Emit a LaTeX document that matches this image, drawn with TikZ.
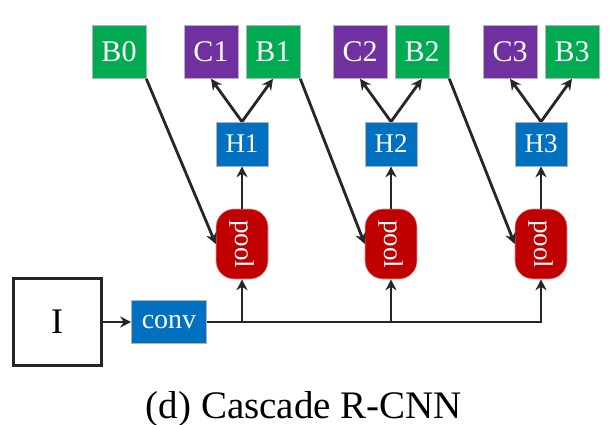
\documentclass[tikz,border=0pt]{standalone}
\usepackage{fontspec}
\setmainfont{Liberation Serif}
\usepackage{graphicx}
\usetikzlibrary{arrows.meta, positioning, calc}
\definecolor{regcol}{RGB}{0,170,80}
\definecolor{clscol}{RGB}{112,48,160}
\definecolor{headcol}{RGB}{0,112,192}
\definecolor{poolcol}{RGB}{192,0,0}

\begin{document}
\begin{tikzpicture}[x=1pt, y=-1pt,
    cell/.style={draw=gray!60, line width=0.6pt, text=white, inner sep=0pt, minimum width=54pt, minimum height=53pt, font=\fontsize{30}{30}\selectfont},
    reg/.style={cell, fill=regcol},
    cls/.style={cell, fill=clscol},
    head/.style={cell, fill=headcol, minimum width=52pt, minimum height=44pt, font=\fontsize{27}{27}\selectfont},
    roi/.style={fill=poolcol, draw=poolcol!40, line width=0.6pt, rounded corners=18pt, text=white, inner sep=0pt, minimum width=52pt, minimum height=70pt, font=\fontsize{27}{27}\selectfont},
    arrow/.style={-{Stealth[length=11pt, width=11pt]}, line width=2.8pt, draw=black!85},
    lbl/.style={font=\fontsize{39}{39}\selectfont}
]
    \useasboundingbox (0,0) rectangle (615,425);
    \node[draw=black!85, line width=3pt, minimum width=88pt, minimum height=87pt, font=\fontsize{36}{36}\selectfont] (img) at (57,322) {I};
    \node[cell, fill=headcol, minimum width=75pt, minimum height=43pt, font=\fontsize{28}{28}\selectfont] (conv) at (169,322) {conv};
    \node[reg] (B0) at (119,52) {B0};
    \draw[arrow] (img) -- (conv);
    \foreach \i/\x in {1/242, 2/391, 3/541} {
        \pgfmathtruncatemacro\j{\i-1}
        \node[roi] (pool\i) at (\x,244) {\rotatebox{-90}{pool}};
        \node[head] (H\i) at (\x,144) {H\i};
        \node[cls] (C\i) at (\x-31,52) {C\i};
        \node[reg] (B\i) at (\x+31,52) {B\i};
        \draw[arrow] (pool\i) -- (H\i);
        \draw[arrow] (H\i.north) -- (C\i.south);
        \draw[arrow] (H\i.north) -- (B\i.south);
        \draw[arrow] (B\j.south east) -- (pool\i.west);
    }
    \draw[arrow] (conv.east) -| (pool3.south);
    \foreach \i in {1,2}
        \draw[arrow] (conv.east -| pool\i.south) -- (pool\i.south);
    \node[lbl, anchor=base] (cap) at (304,418) {(d) Cascade R-CNN};
\end{tikzpicture}
\end{document}
